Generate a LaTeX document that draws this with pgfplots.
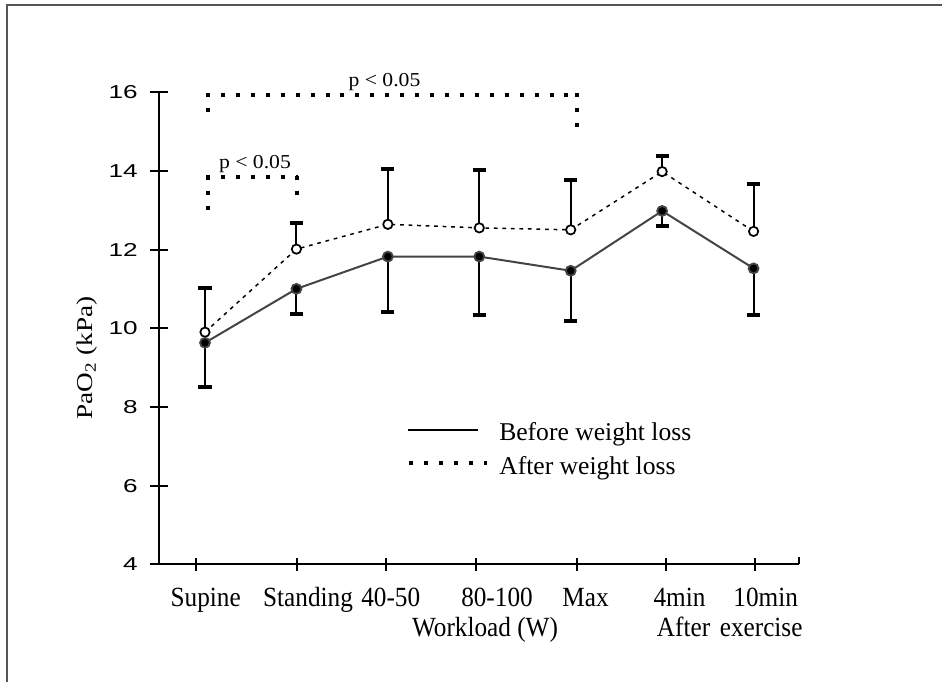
\documentclass[border=0pt]{standalone}
\usepackage{fontspec}
\setmainfont{Liberation Serif}
\newfontfamily\xlabfont[FakeStretch=0.91]{Liberation Serif}
\newfontfamily\ylabfont[FakeStretch=1.2]{Liberation Serif}
\newfontfamily\ytickfont[FakeStretch=1.4]{Liberation Sans}
\newfontfamily\pfont[FakeStretch=1.1]{Liberation Serif}
\usepackage{pgfplots}
\usepackage{pgfplotstable}
\pgfplotsset{compat=1.18}

\definecolor{linegray}{HTML}{444444}
\definecolor{framegray}{HTML}{555555}

% PaO2 (kPa), mean and SD, before weight loss
\pgfplotstableread{
x  y      lo
0  9.63   1.13
1  11.00  0.64
2  11.82  1.41
3  11.82  1.49
4  11.46  1.27
5  12.98  0.38
6  11.52  1.19
}\beforeloss

% PaO2 (kPa), mean and SD, after weight loss
\pgfplotstableread{
x  y      hi
0  9.90   1.11
1  12.01  0.66
2  12.64  1.40
3  12.55  1.47
4  12.50  1.27
5  13.98  0.39
6  12.46  1.20
}\afterloss

\begin{document}
\begin{tikzpicture}
\begin{axis}[
  scale only axis,
  width=480pt, height=354.15pt,
  xmin=-0.5, xmax=6.5, ymin=4, ymax=16,
  axis lines=left,
  axis line style={-, line width=1.5pt, black},
  clip=false,
  xtick={-0.0984,1.0029,1.9797,2.9607,4.0654,5.0388,6.0188},
  xticklabels={},
  ytick={4,6,8,10,12,14,16},
  tick align=center,
  major tick length=13.2pt,
  x tick style={/pgfplots/major tick length=10pt},
  tick style={line width=1.5pt, black},
  /pgf/number format/assume math mode=true,
  yticklabel style={font={\fontsize{14pt}{16pt}\selectfont\ytickfont}, xshift=-6pt},
]

% after weight loss: dashed line, open circles, SD upwards
\addplot[black, line width=1.1pt, dash pattern=on 2.8pt off 3.6pt,
  mark=*, mark size=3.5pt,
  mark options={solid, fill=white, draw=black, line width=1.3pt},
  error bars/.cd, y dir=plus, y explicit, error mark=|,
  error bar style={solid, line width=1.6pt, black},
  error mark options={solid, line width=3pt, mark size=4.9pt, black}]
  table[x=x, y=y, y error=hi] {\afterloss};

% before weight loss: solid grey line, filled circles, SD downwards
\addplot[linegray, line width=1.5pt,
  mark=*, mark size=3.7pt,
  mark options={solid, fill=black, draw=linegray, line width=1.4pt},
  error bars/.cd, y dir=minus, y explicit, error mark=|,
  error bar style={solid, line width=1.6pt, black},
  error mark options={solid, line width=3pt, mark size=4.9pt, black}]
  table[x=x, y=y, y error=lo] {\beforeloss};

% significance brackets
\tikzset{sig/.style={black, line width=3pt, line cap=butt, dash pattern=on 3pt off 8.2pt}}
\draw[sig] (axis cs:0.0295,15.9682) -- (axis cs:0.0295,15.4181);
\draw[sig] (axis cs:0.0114,15.9263) -- (axis cs:4.0835,15.9263);
\draw[sig] (axis cs:4.0654,15.9682) -- (axis cs:4.0654,15.0191);
\node[font={\fontsize{14.8pt}{16pt}\selectfont\pfont}, anchor=base] at (axis cs:1.9632,16.1550) {p < 0.05};

\draw[sig] (axis cs:0.0295,13.8767) -- (axis cs:0.0295,12.9873);
\draw[sig] (axis cs:0.0114,13.8348) -- (axis cs:1.0210,13.8348);
\draw[sig] (axis cs:1.0029,13.8767) -- (axis cs:1.0029,13.3431);
\node[font={\fontsize{14.8pt}{16pt}\selectfont\pfont}, anchor=base] at (axis cs:0.5469,14.0635) {p < 0.05};

% legend
\draw[black, line width=1.2pt] (axis cs:2.2214,7.4130) -- (axis cs:2.9859,7.4130);
\draw[sig] (axis cs:2.2356,6.5667) -- (axis cs:3.0854,6.5667);
\node[font={\fontsize{19.2pt}{22pt}\selectfont}, anchor=base west, inner sep=0pt] at (axis cs:3.2156,7.1410) {Before weight loss};
\node[font={\fontsize{19.2pt}{22pt}\selectfont}, anchor=base west, inner sep=0pt] at (axis cs:3.2156,6.2948) {After weight loss};

% category labels
\tikzset{xlab/.style={font={\fontsize{20.8pt}{24pt}\selectfont\xlabfont}, anchor=base, inner sep=0pt}}
\node[xlab] at (axis cs:0.0077,2.9225) {Supine};
\node[xlab] at (axis cs:1.1265,2.9225) {Standing};
\node[xlab] at (axis cs:2.0311,2.9225) {40-50};
\node[xlab] at (axis cs:3.1937,2.9225) {80-100};
\node[xlab] at (axis cs:4.1617,2.9225) {Max};
\node[xlab] at (axis cs:5.1898,2.9225) {4min};
\node[xlab] at (axis cs:6.1326,2.9225) {10min};
\node[xlab] at (axis cs:3.0624,2.1601) {Workload (W)};
\node[xlab, anchor=base west] at (axis cs:4.9404,2.1601) {After\hspace{0.12em} exercise};

% right end tick of the x axis
\draw[black, line width=1.5pt] (axis cs:6.5,4) -- (axis cs:6.5,4.18);

% y axis title
\node[font={\fontsize{17pt}{20pt}\selectfont\ylabfont}, rotate=90, anchor=base, inner sep=0pt]
  at (axis cs:-1.2326,9.2427) {PaO\textsubscript{2} (kPa)};

% outer frame
\draw[framegray, line width=1.5pt] (axis cs:-2.1656,1.0) -- (axis cs:-2.1656,18.2135) -- (axis cs:8.07,18.2135);

\coordinate (bbsw) at (axis cs:-2.2422,1.0089);
\coordinate (bbne) at (axis cs:8.0608,18.3406);
\end{axis}
\pgfresetboundingbox
\path[use as bounding box] (bbsw) rectangle (bbne);
\end{tikzpicture}
\end{document}
